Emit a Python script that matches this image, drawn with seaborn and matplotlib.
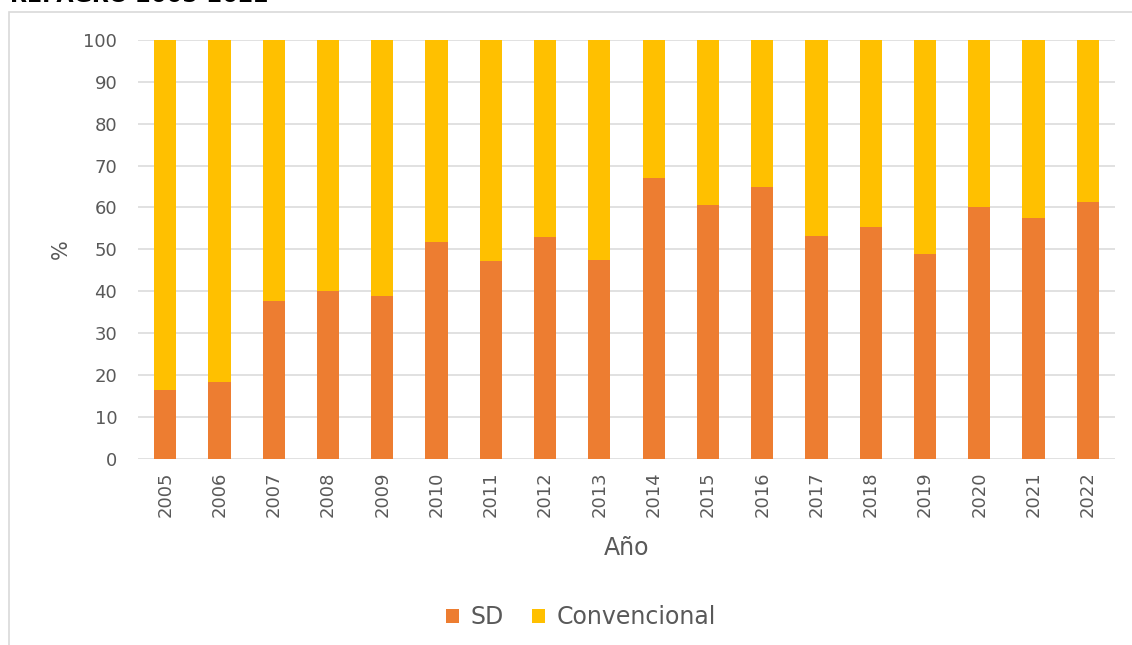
import matplotlib
matplotlib.use("Agg")
import matplotlib.pyplot as plt
import seaborn as sns
import pandas as pd
from matplotlib.patches import Rectangle, Patch

years = ["2005", "2006", "2007", "2008", "2009", "2010", "2011", "2012", "2013",
         "2014", "2015", "2016", "2017", "2018", "2019", "2020", "2021", "2022"]
sd = [16.3, 18.3, 37.6, 40.0, 38.8, 51.7, 47.1, 52.9, 47.5,
      67.0, 60.6, 64.9, 53.3, 55.3, 48.9, 60.1, 57.5, 61.2]
convencional = [83.7, 81.7, 62.4, 60.0, 61.2, 48.3, 52.9, 47.1, 52.5,
                33.0, 39.4, 35.1, 46.7, 44.7, 51.1, 39.9, 42.5, 38.8]
series_names = ["SD", "Convencional"]
title_text = "REPAGRO 2005-2022"
x_label = "Año"
y_label = "%"

sns.set_theme(style="white")
plt.rcParams['font.family'] = ['DejaVu Sans']

C_SD = "#ED7D31"
C_CONV = "#FFC000"
TXT = "#595959"
GRID = "#D9D9D9"

df = pd.DataFrame({"year": years, "sd": sd, "conv": convencional})
df["total"] = df["sd"] + df["conv"]

W, H = 1132, 645
fig = plt.figure(figsize=(W / 100, H / 100), dpi=100)
ax = fig.add_axes([138 / W, 1 - 458.7 / H, 977 / W, 418.7 / H])

sns.barplot(data=df, x="year", y="total", color=C_CONV, width=0.41,
            saturation=1, ax=ax, linewidth=0)
sns.barplot(data=df, x="year", y="sd", color=C_SD, width=0.41,
            saturation=1, ax=ax, linewidth=0)

ax.set_ylim(0, 100)
ax.set_xlim(-0.5, len(years) - 0.5)
ax.set_yticks(range(0, 101, 10))
ax.yaxis.grid(True, color=GRID, linewidth=1.1)
ax.set_axisbelow(True)
for s in ax.spines.values():
    s.set_visible(False)
ax.tick_params(axis="y", length=0, pad=15, labelsize=13, labelcolor=TXT)
ax.tick_params(axis="x", length=0, pad=9, labelsize=13, labelcolor=TXT,
               labelrotation=90)

ax.set_xlabel(x_label, fontsize=17, color=TXT)
ax.set_ylabel(y_label, fontsize=15, color=TXT)
ax.xaxis.set_label_coords(0.5, -(536 - 459) / 418.7)
ax.yaxis.set_label_coords(-(138 - 71) / 977, 0.5)

handles = [Patch(facecolor=C_SD, edgecolor="none"),
           Patch(facecolor=C_CONV, edgecolor="none")]
fig.legend(handles, series_names, loc="center", ncol=2, frameon=False,
           bbox_to_anchor=(581 / W, 1 - 617 / H), fontsize=17,
           labelcolor=TXT, handlelength=0.55, handleheight=0.55,
           handletextpad=0.5, columnspacing=1.2)

# chart frame
fig.patches.append(Rectangle((9 / W, -0.05), 1.1, 1.05 - 12 / H,
                             transform=fig.transFigure, fill=False,
                             edgecolor=GRID, linewidth=1.2))
# cropped title at top
fig.text(10 / W, 1 - 2 / H, title_text, fontsize=16, fontweight="bold",
         color="black", va="baseline", ha="left")

fig.savefig("out.png", dpi=100)
